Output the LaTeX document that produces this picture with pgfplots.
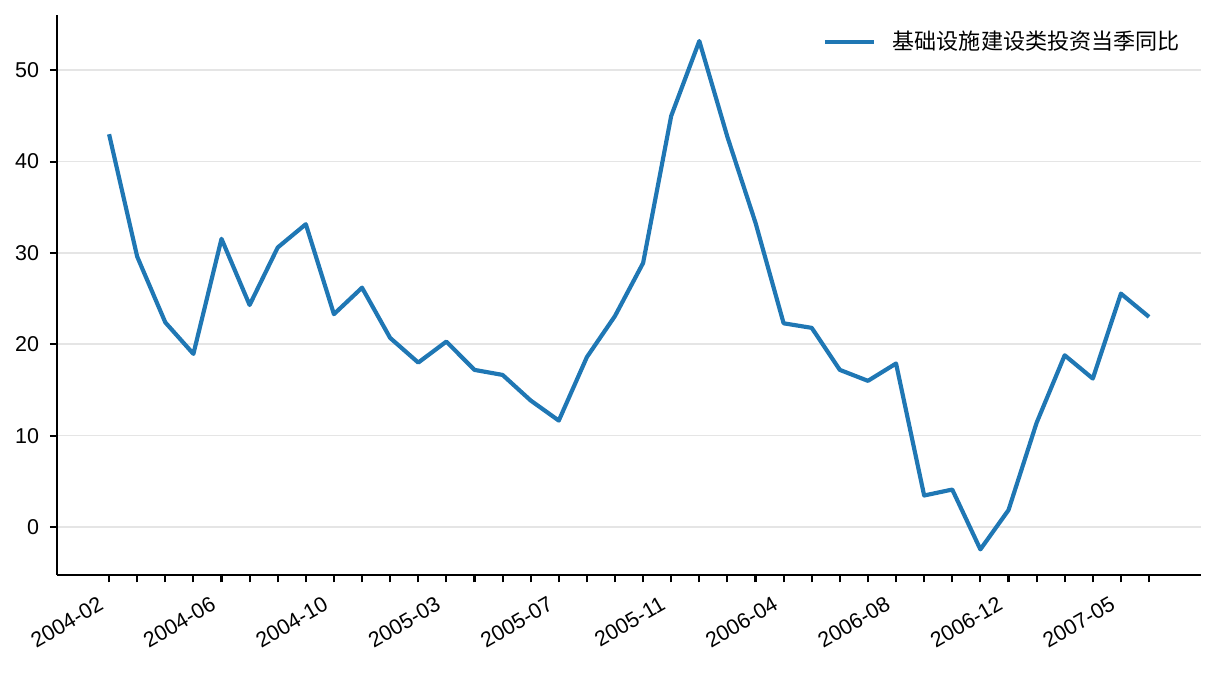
\documentclass[border=0pt]{standalone}
\usepackage{fontspec}
\setmainfont{Liberation Sans}
\newfontfamily\cjk{Noto Sans CJK SC}
\usepackage{pgfplots}
\pgfplotsset{compat=1.18}
\definecolor{tabblue}{HTML}{1F77B4}
\definecolor{gridgray}{RGB}{229,229,229}

\pgfplotstableread{
x y
0 43.0
1 29.6
2 22.4
3 18.95
4 31.55
5 24.3
6 30.6
7 33.15
8 23.3
9 26.2
10 20.7
11 18.0
12 20.3
13 17.2
14 16.65
15 13.85
16 11.65
17 18.6
18 23.1
19 28.9
20 45.0
21 53.2
22 42.7
23 33.3
24 22.3
25 21.8
26 17.2
27 16.0
28 17.9
29 3.45
30 4.1
31 -2.45
32 1.85
33 11.4
34 18.8
35 16.25
36 25.55
37 23.0
}\infra

\begin{document}
\begin{tikzpicture}
\begin{axis}[
    scale only axis,
    width=549.1pt, height=268.8pt,
    xmin=-1.85, xmax=38.85,
    ymin=-5.25, ymax=56.05,
    axis x line*=bottom, axis y line*=left,
    axis line style={line width=1pt, black, -},
    tick style={line width=1pt, black},
    tick align=outside,
    major tick length=3.5pt,
    xtick={0,...,37},
    xticklabels={2004-02,,,,2004-06,,,,2004-10,,,,2005-03,,,,2005-07,,,,2005-11,,,,2006-04,,,,2006-08,,,,2006-12,,,,2007-05,},
    ytick={0,10,...,50},
    ymajorgrids=true,
    grid style={gridgray, line width=0.8pt},
    /pgf/number format/assume math mode=true,
    tick label style={font=\fontsize{10.3}{12}\selectfont},
    xticklabel style={rotate=30, anchor=north east, inner sep=0pt, xshift=-8pt, yshift=-2.6pt},
    yticklabel style={inner sep=0pt, xshift=-5pt},
    legend style={draw=none, fill=none, at={(rel axis cs:1,1)}, anchor=north east,
        xshift=-10pt, yshift=-7.5pt, inner sep=0pt,
        font=\fontsize{10.6}{13}\selectfont,
        nodes={inner sep=0pt, anchor=west}},
    legend image code/.code={\draw[#1] (0pt,0pt) -- (23.5pt,0pt);},
    legend cell align=left,
]
\addplot[tabblue, line width=2pt, line join=round] table[x=x, y=y] {\infra};
\addlegendentry{\hspace{8pt}\cjk 基础设施建设类投资当季同比}
\coordinate (sw) at (rel axis cs:0,0);
\coordinate (ne) at (rel axis cs:1,1);
\end{axis}
\pgfresetboundingbox
\path[use as bounding box] ([shift={(-27.4pt,-46.6pt)}]sw) rectangle ([shift={(7.2pt,7.2pt)}]ne);
\end{tikzpicture}
\end{document}
